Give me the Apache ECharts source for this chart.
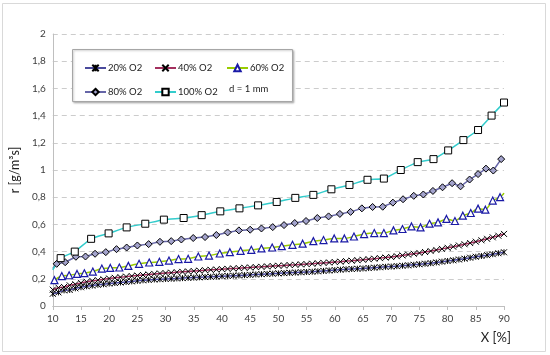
<!DOCTYPE html>
<html><head><meta charset="utf-8">
<script src="https://cdn.jsdelivr.net/npm/echarts@6/dist/echarts.min.js"></script>
<style>html,body{margin:0;padding:0;background:#fff}#c{width:550px;height:355px}</style>
</head><body><div id="c"></div>
<script>
// ---- data ----
const seriesNames = ['20% O2', '40% O2', '60% O2', '80% O2', '100% O2'];
const noteText = 'd = 1 mm';
const xTickLabels = ['10','15','20','25','30','35','40','45','50','55','60','65','70','75','80','85','90'];
const yTickLabels = ['0','0,2','0,4','0,6','0,8','1','1,2','1,4','1,6','1,8','2'];

const xDense = [10,11,12,13,14,15,16,17,18,19,20,21,22,23,24,25,26,27,28,29,30,31,32,33,34,35,36,37,38,39,40,
  41,42,43,44,45,46,47,48,49,50,51,52,53,54,55,56,57,58,59,60,61,62,63,64,65,66,67,68,69,70,
  71,72,73,74,75,76,77,78,79,80,81,82,83,84,85,86,87,88,89,90];
const y20 = [0.09,0.10,0.115,0.118,0.13,0.138,0.145,0.15,0.156,0.16,0.165,0.169,0.173,0.177,0.181,0.185,0.189,0.192,0.195,0.197,0.199,
  0.201,0.203,0.205,0.207,0.209,0.211,0.213,0.215,0.217,0.219,0.221,0.223,0.225,0.227,0.229,0.232,0.234,0.236,0.238,0.24,
  0.242,0.244,0.246,0.248,0.25,0.252,0.255,0.258,0.261,0.264,0.267,0.27,0.272,0.274,0.276,0.279,0.282,0.285,0.288,0.29,
  0.293,0.296,0.299,0.303,0.307,0.311,0.315,0.32,0.326,0.331,0.336,0.342,0.348,0.355,0.362,0.368,0.374,0.381,0.388,0.395];
const y40 = [0.12,0.135,0.14,0.152,0.16,0.17,0.178,0.185,0.19,0.196,0.202,0.207,0.212,0.216,0.22,0.224,0.228,0.232,0.236,0.239,0.242,
  0.245,0.248,0.251,0.254,0.257,0.26,0.263,0.266,0.268,0.271,0.273,0.276,0.278,0.281,0.283,0.286,0.288,0.291,0.294,0.296,
  0.298,0.301,0.303,0.306,0.308,0.311,0.314,0.317,0.32,0.323,0.326,0.33,0.333,0.337,0.34,0.344,0.348,0.352,0.356,0.36,
  0.366,0.372,0.378,0.384,0.39,0.397,0.404,0.412,0.42,0.428,0.436,0.445,0.454,0.463,0.473,0.483,0.494,0.505,0.517,0.53];

const x60 = [10,10.3,11.6,12.9,14.3,15.6,17.1,18.7,20.2,21.8,23.4,25.3,27.1,28.9,30.6,32.3,34,35.8,37.7,39.6,41.4,43.3,45.2,47,48.9,
  50.6,52.5,54.3,56.2,58,59.9,61.7,63.4,65.2,67,68.7,70.4,72,73.6,75.2,76.8,78.3,79.8,81.3,82.7,84.1,85.4,86.7,88,89.3,90];
const y60 = [0.172,0.19,0.22,0.226,0.236,0.241,0.253,0.275,0.28,0.283,0.295,0.31,0.32,0.325,0.334,0.345,0.347,0.364,0.371,0.386,0.396,
  0.406,0.413,0.423,0.43,0.44,0.45,0.458,0.477,0.485,0.497,0.497,0.511,0.529,0.536,0.536,0.556,0.566,0.585,0.578,0.605,0.615,
  0.64,0.625,0.664,0.684,0.716,0.708,0.775,0.80,0.83];

const x80 = [10,10.7,12.2,14.1,15.8,17.5,19.4,21.3,23.1,25,27,29,31,32.8,34.9,37,39,41,43,45,47,49,51,52.9,54.9,56.9,58.9,60.9,
  62.8,64.8,66.7,68.5,70.3,72.1,74,75.7,77.4,79.1,80.8,82.3,83.9,85.4,86.8,88.1,89.5,90];
const y80 = [0.275,0.31,0.322,0.362,0.364,0.384,0.396,0.418,0.43,0.445,0.455,0.472,0.477,0.489,0.50,0.507,0.522,0.541,0.556,0.561,
  0.57,0.58,0.595,0.61,0.625,0.647,0.659,0.677,0.692,0.718,0.728,0.73,0.76,0.785,0.81,0.82,0.846,0.873,0.903,0.88,0.93,0.97,
  1.01,0.996,1.08,1.085];

const x100 = [10,11.4,13.9,16.8,19.9,23.1,26.4,29.7,33.2,36.4,39.7,43.1,46.4,49.7,53,56.2,59.4,62.6,65.8,68.7,71.7,74.7,77.5,
  80.1,82.8,85.4,87.8,90];
const y100 = [0.265,0.352,0.40,0.494,0.534,0.578,0.605,0.635,0.647,0.668,0.696,0.718,0.74,0.765,0.795,0.817,0.858,0.89,0.928,
  0.937,1.0,1.058,1.08,1.144,1.22,1.294,1.40,1.496];

// ---- build ----
function pts(xs, ys, hideFirst, hideLast) {
  return xs.map(function (x, i) {
    const hidden = (hideFirst && i === 0) || (hideLast && i === xs.length - 1);
    return hidden ? { value: [x, ys[i]], symbol: 'none' } : [x, ys[i]];
  });
}
const FONT = 'Lato';
const starPath = 'path://M0,0L10,10M10,0L0,10M5,0L5,10';
const xPath = 'path://M0,0L10,10M10,0L0,10';

const chart = echarts.init(document.getElementById('c'), null, { renderer: 'canvas' });

const legendCommon = {
  orient: 'vertical', itemWidth: 21, itemHeight: 8, itemGap: 14,
  textStyle: { fontFamily: FONT, fontSize: 9.5, color: '#222', padding: [0, 0, 0, -3] },
  selectedMode: false, z: 5
};

chart.setOption({
  animation: false,
  backgroundColor: '#fff',
  textStyle: { fontFamily: FONT },
  grid: { left: 51, right: 46, top: 34, bottom: 49 },
  graphic: [
    { type: 'rect', z: 0, shape: { x: 2.5, y: 3.5, width: 543, height: 348 },
      style: { fill: 'none', stroke: '#D9D9D9', lineWidth: 1 }, silent: true },
    { type: 'rect', z: 3, shape: { x: 72.5, y: 49.5, width: 220, height: 52 },
      style: { fill: '#fff', stroke: '#A6A6A6', lineWidth: 1, shadowBlur: 2, shadowOffsetX: 1, shadowOffsetY: 1, shadowColor: 'rgba(0,0,0,0.25)' }, silent: true },
    { type: 'text', z: 6, left: 229, top: 83.5,
      style: { text: noteText, fontFamily: FONT, fontSize: 9.5, fill: '#222' } }
  ],
  legend: [
    Object.assign({ left: 79, top: 58, data: [seriesNames[0], seriesNames[3]] }, legendCommon),
    Object.assign({ left: 149, top: 58, data: [seriesNames[1], seriesNames[4]] }, legendCommon),
    Object.assign({ left: 221, top: 58, data: [seriesNames[2]] }, legendCommon)
  ],
  xAxis: {
    type: 'value', min: 10, max: 90, interval: 5,
    name: 'X [%]', nameLocation: 'end', nameGap: 7,
    nameTextStyle: { fontFamily: FONT, fontSize: 13, color: '#222', align: 'right', verticalAlign: 'top', padding: [25, 0, 0, 0] },
    axisLine: { show: true, lineStyle: { color: '#BFBFBF', width: 1 } },
    axisTick: { show: true, length: 4, lineStyle: { color: '#BFBFBF' } },
    axisLabel: { fontFamily: FONT, fontSize: 10, color: '#404040', margin: 8,
      formatter: function (v) { const i = Math.round((v - 10) / 5); return xTickLabels[i] || ''; } },
    splitLine: { show: false }
  },
  yAxis: {
    type: 'value', min: 0, max: 2, interval: 0.2,
    name: 'r [g/m³s]', nameLocation: 'middle', nameGap: 29, nameRotate: 90,
    nameTextStyle: { fontFamily: FONT, fontSize: 12.5, color: '#222' },
    axisLine: { show: true, lineStyle: { color: '#BFBFBF', width: 1 } },
    axisTick: { show: false },
    axisLabel: { fontFamily: FONT, fontSize: 10, color: '#404040', margin: 7,
      formatter: function (v) { const i = Math.round(v / 0.2); return yTickLabels[i] || ''; } },
    splitLine: { show: true, lineStyle: { color: '#CCCCCC', type: [5, 4], width: 1 } }
  },
  series: [
    { name: seriesNames[0], type: 'line', data: pts(xDense, y20), z: 2,
      symbol: starPath, symbolSize: 6, showAllSymbol: true,
      lineStyle: { color: '#4A4A9C', width: 1.5 },
      itemStyle: { color: '#4A4A9C', borderColor: '#000', borderWidth: 1 } },
    { name: seriesNames[1], type: 'line', data: pts(xDense, y40), z: 2,
      symbol: xPath, symbolSize: 6, showAllSymbol: true,
      lineStyle: { color: '#A3305E', width: 1.5 },
      itemStyle: { color: '#A3305E', borderColor: '#000', borderWidth: 1 } },
    { name: seriesNames[2], type: 'line', data: pts(x60, y60, true, true), z: 2,
      symbol: 'triangle', symbolSize: 7, showAllSymbol: true, smooth: 0.2,
      lineStyle: { color: '#99CC00', width: 1.5 },
      itemStyle: { color: '#fff', borderColor: '#1A1AA6', borderWidth: 1.2 } },
    { name: seriesNames[3], type: 'line', data: pts(x80, y80, true, true), z: 2,
      symbol: 'diamond', symbolSize: 7, showAllSymbol: true,
      lineStyle: { color: '#6666A8', width: 1.5 },
      itemStyle: { color: '#A3A3CC', borderColor: '#000', borderWidth: 1 } },
    { name: seriesNames[4], type: 'line', data: pts(x100, y100, true, false), z: 2,
      symbol: 'rect', symbolSize: 7, showAllSymbol: true, smooth: 0.2,
      lineStyle: { color: '#33CCCC', width: 1.5 },
      itemStyle: { color: '#fff', borderColor: '#000', borderWidth: 1 } }
  ]
});
</script>
</body></html>
